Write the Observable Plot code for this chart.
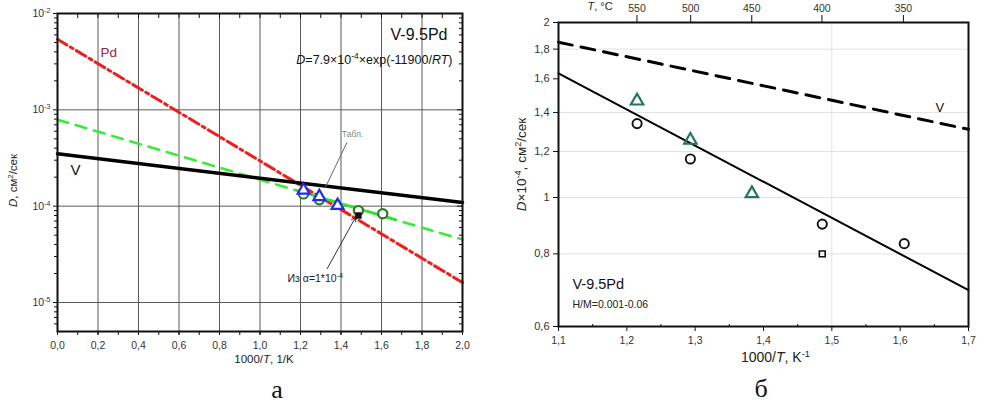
<!DOCTYPE html>
<html>
<head>
<meta charset="utf-8">
<script src="https://cdn.jsdelivr.net/npm/d3@7"></script>
<script src="https://cdn.jsdelivr.net/npm/@observablehq/plot@0.6"></script>
<style>
  body { margin: 0; background: #fff; }
  #fig { position: relative; width: 983px; height: 405px; overflow: hidden; }
  #panelA { position: absolute; left: 0; top: 0; }
  #panelB { position: absolute; left: 490px; top: 0; }
  .cap { position: absolute; font-family: 'Liberation Serif', 'Times New Roman', serif; font-size: 26px; line-height: 1; transform: translateX(-50%); color: #111; }
</style>
</head>
<body>
<div id="fig">
  <div id="panelA"></div>
  <div id="panelB"></div>
  <div class="cap" style="left:277px; top:377px">а</div>
  <div class="cap" style="left:761px; top:376px">б</div>
</div>
<script>
// ---- Measured diffusion coefficients of hydrogen in V-9.5Pd (D × 10^-4 cm²/s) ----
const circleInvT = [1.215, 1.293, 1.486, 1.606];
const circleD    = [1.34, 1.165, 0.90, 0.833];
const triInvT    = [1.215, 1.293, 1.383];
const triD       = [1.466, 1.255, 1.016];
const squareInvT = [1.486];
const squareD    = [0.80];

// ---- Arrhenius lines, panel (а): endpoints in cm²/s ----
const pdInvT  = [0, 2];
const pdD     = [5.4e-3, 1.61e-5];
const vInvT   = [0, 2];
const vD      = [3.5e-4, 1.09e-4];
const fitInvT = [0, 2];
const fitD    = [7.9e-4, 4.5e-5];
const fitSolidInvT = [1.18, 1.67];
const fitSolidD    = [1.459e-4, 7.24e-5];

// ---- Arrhenius lines, panel (б): endpoints in units of 10^-4 cm²/s ----
const vInvT_b   = [1.1, 1.7];
const vD_b      = [1.85, 1.31];
const fitInvT_b = [1.1, 1.7];
const fitD_b    = [1.635, 0.693];

// ---- Axis ticks ----
const aTicksX   = [0, 0.2, 0.4, 0.6, 0.8, 1.0, 1.2, 1.4, 1.6, 1.8, 2.0];
const aMinorX   = d3.range(0, 21).map(i => i / 10);
const aGridX    = [0.2, 0.4, 0.6, 0.8, 1.0, 1.2, 1.4, 1.6, 1.8];
const aTicksY   = [1e-5, 1e-4, 1e-3, 1e-2];
const aGridY    = [1e-5, 1e-4, 1e-3];
const aMinorY   = [];
for (const e of [-6, -5, -4, -3]) for (let m = 2; m <= 9; m++) {
  const v = m * Math.pow(10, e);
  if (v >= 5e-6 && v < 1e-2) aMinorY.push(v);
}
const bTicksX   = [1.1, 1.2, 1.3, 1.4, 1.5, 1.6, 1.7];
const bMinorX   = [1.15, 1.25, 1.35, 1.45, 1.55, 1.65];
const bTicksY   = [0.6, 0.8, 1, 1.2, 1.4, 1.6, 1.8, 2];
const bGridY    = [0.8, 1, 1.2, 1.4, 1.8];
const bGridX    = [1.5];
const tempTicksC = [550, 500, 450, 400, 350];

// ---- Text ----
const aTitle   = "V-9.5Pd";
const aFormula = "_D_=7.9×10^{-4}×exp(-11900/_RT_)";
const aLabelY  = "_D_, см^{2}/сек";
const aLabelX  = "1000/_T_, 1/K";
const bTitle   = "V-9.5Pd";
const bNote    = "H/M=0.001-0.06";
const bLabelY  = "_D_×10^{-4}, см^{2}/сек";
const bLabelX  = "1000/_T_, K^{-1}";
const bLabelTop = "_T_, °C";

// Annotation anchors (data units of each panel)
const aNotes = [
  {x: 0.212, D: 3.93e-3, text: "Pd", fill: "#a3203c", size: 13.5},
  {x: 0.064, D: 2.34e-4, text: "V", fill: "#111", size: 15},
  {x: 1.457, D: 5.55e-4, text: "Табл.", fill: "#7b8d76", size: 8.5},
  {x: 1.136, D: 1.79e-5, text: "Из α=1*10^{-4}", fill: "#222", size: 10.5}
];
const aLeaders = [
  {x1: 1.43, y1: 4.61e-4, x2: 1.323, y2: 1.57e-4}
];
const aArrows = [
  {x1: 1.332, y1: 2.25e-5, x2: 1.472, y2: 7.67e-5}
];
const bNotes = [
  {x: 1.658, D: 1.427, text: "V"}
];

const toPts = (xs, ys, k = 1) => xs.map((x, i) => ({x, D: ys[i] * k}));
const comma = (digits) => (d) => d3.format(`.${digits}f`)(d).replace(".", ",");
const fontFamily = "'Liberation Sans', Arial, Helvetica, sans-serif";

// Turn _italic_ and ^{super} markup into tspans.
function richText(svg) {
  d3.select(svg).selectAll("text").each(function () {
    if (this.childElementCount) return;
    const s = this.textContent;
    if (!/_|\^\{/.test(s)) return;
    this.textContent = "";
    const parts = s.split(/(_[^_]+_|\^\{[^}]*\})/g).filter(p => p);
    const el = d3.select(this);
    for (const p of parts) {
      const t = el.append("tspan");
      if (p.startsWith("_")) t.attr("font-style", "italic").text(p.slice(1, -1));
      else if (p.startsWith("^{")) t.attr("baseline-shift", "super").style("font-size", "0.68em").text(p.slice(2, -1));
      else t.text(p);
    }
  });
}

// ================= Panel (а) =================
const panelA = Plot.plot({
  width: 490, height: 370,
  marginLeft: 57, marginRight: 28, marginTop: 13, marginBottom: 39,
  style: {fontFamily, fontSize: "10.5px", color: "#333", background: "transparent", overflow: "visible"},
  x: {domain: [0, 2]},
  y: {type: "log", domain: [5e-6, 1e-2]},
  marks: [
    Plot.gridX(aGridX, {stroke: "#5a5a5a", strokeOpacity: 1, strokeWidth: 1}),
    Plot.gridY(aGridY, {stroke: "#5a5a5a", strokeOpacity: 1, strokeWidth: 1}),
    // bottom axis
    Plot.axisX(aMinorX, {anchor: "bottom", tickSize: 4, fill: "none", label: null, stroke: "#111"}),
    Plot.axisX(aTicksX, {anchor: "bottom", tickSize: 4, tickPadding: 6, tickFormat: comma(1), label: null, stroke: "#111"}),
    // top axis ticks pointing inward
    Plot.axisX(aMinorX, {anchor: "bottom", frameAnchor: "top", tickSize: 5, fill: "none", label: null, stroke: "#111"}),
    // left axis
    Plot.axisY(aMinorY, {anchor: "left", tickSize: 3, fill: "none", label: null, stroke: "#111"}),
    Plot.axisY(aTicksY, {anchor: "left", tickSize: 4, tickPadding: 3,
      tickFormat: d => `10^{${Math.round(Math.log10(d))}}`, label: null, stroke: "#111"}),
    // right axis ticks pointing inward
    Plot.axisY(aMinorY, {anchor: "left", frameAnchor: "right", tickSize: 3, fill: "none", label: null, stroke: "#111"}),
    Plot.axisY(aTicksY, {anchor: "left", frameAnchor: "right", tickSize: 5, fill: "none", label: null, stroke: "#111"}),
    // Arrhenius lines
    Plot.line(toPts(pdInvT, pdD), {x: "x", y: "D", stroke: "#f21c1c", strokeWidth: 3, strokeDasharray: "11,4,3,4"}),
    Plot.line(toPts(fitInvT, fitD), {x: "x", y: "D", stroke: "#3aea3a", strokeWidth: 2.6, strokeDasharray: "11,8"}),
    Plot.line(toPts(fitSolidInvT, fitSolidD), {x: "x", y: "D", stroke: "#33e033", strokeWidth: 2.6}),
    Plot.line(toPts(vInvT, vD), {x: "x", y: "D", stroke: "#000", strokeWidth: 3.4}),
    // leaders
    Plot.link(aLeaders, {x1: "x1", y1: "y1", x2: "x2", y2: "y2", stroke: "#666", strokeWidth: 1}),
    Plot.arrow(aArrows, {x1: "x1", y1: "y1", x2: "x2", y2: "y2", stroke: "#333", strokeWidth: 1, headLength: 7, bend: 0}),
    // measurements
    Plot.dot(toPts(circleInvT, circleD, 1e-4), {x: "x", y: "D", r: 4.6, stroke: "#2a7a2a", strokeWidth: 2.2, fill: "white"}),
    Plot.dot(toPts(squareInvT, squareD, 1e-4), {x: "x", y: "D", symbol: "square", r: 2.8, fill: "#111", stroke: "#111"}),
    Plot.dot(toPts(triInvT, triD, 1e-4), {x: "x", y: "D", symbol: "triangle", r: 4.4, stroke: "#1f2fe6", strokeWidth: 2.2, fill: "white"}),
    Plot.frame({stroke: "#111", strokeWidth: 2}),
    // annotations
    Plot.text(aNotes, {x: "x", y: "D", text: "text", fill: "fill", fontSize: d => d.size,
      textAnchor: "start", lineAnchor: "middle"}),
    Plot.text([aTitle], {text: d => d, frameAnchor: "top-right", dx: -15, dy: 21, textAnchor: "end", lineAnchor: "middle", fontSize: 16, fill: "#111"}),
    Plot.text([aFormula], {text: d => d, frameAnchor: "top-right", dx: -10, dy: 46, textAnchor: "end", lineAnchor: "middle", fontSize: 12.5, fill: "#111"}),
    Plot.text([aLabelY], {text: d => d, frameAnchor: "left", rotate: -90, dx: -44, dy: 8, textAnchor: "middle", lineAnchor: "middle", fontSize: 11.5, fill: "#222"}),
    Plot.text([aLabelX], {text: d => d, frameAnchor: "bottom", dx: 4, dy: 28, textAnchor: "middle", lineAnchor: "middle", fontSize: 11.5, fill: "#222"})
  ]
});
// "Табл." is centred on its anchor
d3.select(panelA).selectAll("text").filter(function () { return this.textContent === "Табл."; }).attr("text-anchor", "middle");
richText(panelA);
document.getElementById("panelA").append(panelA);

// ================= Panel (б) =================
const panelB = Plot.plot({
  width: 493, height: 370,
  marginLeft: 68, marginRight: 15, marginTop: 22, marginBottom: 44,
  style: {fontFamily, fontSize: "10.5px", color: "#333", background: "transparent", overflow: "visible"},
  x: {domain: [1.1, 1.7]},
  y: {type: "log", domain: [0.6, 2]},
  marks: [
    Plot.gridY(bGridY, {stroke: "#e2e2e2", strokeOpacity: 1, strokeWidth: 1}),
    Plot.gridX(bGridX, {stroke: "#e2e2e2", strokeOpacity: 1, strokeWidth: 1}),
    Plot.axisY(bTicksY, {anchor: "left", tickSize: 5, tickPadding: 4, tickFormat: d => String(d).replace(".", ","), label: null, stroke: "#111", fontSize: 11}),
    Plot.axisX(bTicksX, {anchor: "bottom", tickSize: 5, tickPadding: 5, tickFormat: comma(1), label: null, stroke: "#111"}),
    Plot.axisX(bMinorX, {anchor: "top", frameAnchor: "bottom", tickSize: 3, fill: "none", label: null, stroke: "#111"}),
    // upper temperature scale (°C) placed at 1000/T(K)
    Plot.axisX(tempTicksC.map(t => 1000 / (t + 273.15)), {anchor: "top", tickSize: 8, tickPadding: 3,
      tickFormat: d => String(Math.round(1000 / d - 273.15)), label: null, stroke: "#111"}),
    Plot.line(toPts(vInvT_b, vD_b), {x: "x", y: "D", stroke: "#000", strokeWidth: 3, strokeDasharray: "14,9"}),
    Plot.line(toPts(fitInvT_b, fitD_b), {x: "x", y: "D", stroke: "#000", strokeWidth: 2}),
    Plot.dot(toPts(circleInvT, circleD), {x: "x", y: "D", r: 4.6, stroke: "#111", strokeWidth: 1.9, fill: "none"}),
    Plot.dot(toPts(squareInvT, squareD), {x: "x", y: "D", symbol: "square", r: 3.3, stroke: "#111", strokeWidth: 1.6, fill: "none"}),
    Plot.dot(toPts(triInvT, triD), {x: "x", y: "D", symbol: "triangle", r: 4.6, stroke: "#1f7a55", strokeWidth: 2.2, fill: "none"}),
    Plot.frame({stroke: "#111", strokeWidth: 2}),
    Plot.text(bNotes, {x: "x", y: "D", text: "text", fontSize: 13, fill: "#111"}),
    Plot.text([bTitle], {text: d => d, frameAnchor: "bottom-left", dx: 14, dy: -42.5, textAnchor: "start", lineAnchor: "middle", fontSize: 14.5, fill: "#111"}),
    Plot.text([bNote], {text: d => d, frameAnchor: "bottom-left", dx: 14, dy: -21.5, textAnchor: "start", lineAnchor: "middle", fontSize: 10.5, fill: "#222"}),
    Plot.text([bLabelTop], {text: d => d, frameAnchor: "top-left", dx: 29, dy: -16, textAnchor: "start", lineAnchor: "middle", fontSize: 11, fill: "#222"}),
    Plot.text([bLabelY], {text: d => d, frameAnchor: "left", rotate: -90, dx: -37, dy: -10, textAnchor: "middle", lineAnchor: "middle", fontSize: 13.5, fill: "#222"}),
    Plot.text([bLabelX], {text: d => d, frameAnchor: "bottom", dx: 12, dy: 31, textAnchor: "middle", lineAnchor: "middle", fontSize: 14, fill: "#222"})
  ]
});
richText(panelB);
document.getElementById("panelB").append(panelB);
</script>
</body>
</html>
